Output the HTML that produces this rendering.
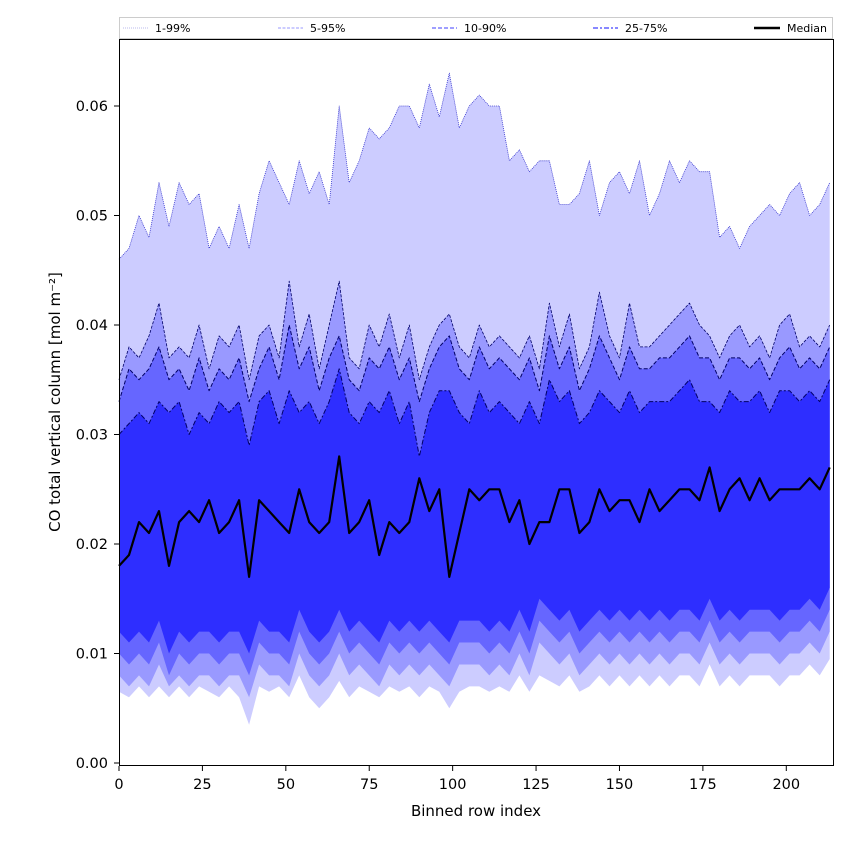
<!DOCTYPE html>
<html><head><meta charset="utf-8"><style>
body{margin:0;background:#fff;}
svg text{font-family:"DejaVu Sans","Liberation Sans",sans-serif;}
</style></head><body>
<svg id="chart" width="850" height="850" viewBox="0 0 850 850" xmlns="http://www.w3.org/2000/svg">
<g id="bands"></g>
<g id="lines"></g>
<rect x="119.5" y="39.5" width="714" height="726" fill="none" stroke="#000" stroke-width="1"/>
<g id="axes"></g>
<text x="476" y="816" font-size="15" text-anchor="middle">Binned row index</text>
<text transform="translate(60,402) rotate(-90)" font-size="15" text-anchor="middle">CO total vertical column [mol m⁻²]</text>
<g>
<rect x="119.5" y="17.5" width="713" height="21" fill="#fff" stroke="#ccc"/>
<line x1="123" y1="28" x2="148" y2="28" stroke="#bbbbee" stroke-width="1" stroke-dasharray="1,1"/>
<text x="155" y="32" font-size="11">1-99%</text>
<line x1="278" y1="28" x2="303" y2="28" stroke="#9999ff" stroke-width="1" stroke-dasharray="3,1.5"/>
<text x="310" y="32" font-size="11">5-95%</text>
<line x1="432" y1="28" x2="457" y2="28" stroke="#6666ff" stroke-width="1.3" stroke-dasharray="4,2"/>
<text x="464" y="32" font-size="11">10-90%</text>
<line x1="593" y1="28" x2="618" y2="28" stroke="#7777ff" stroke-width="1.8" stroke-dasharray="5,2,2,2"/>
<text x="625" y="32" font-size="11">25-75%</text>
<line x1="754" y1="28" x2="780" y2="28" stroke="#000" stroke-width="2.5"/>
<text x="787" y="32" font-size="11">Median</text>
</g>
</svg>
<script>
const rowIndex = [];
for (let i = 0; i <= 213; i += 3) rowIndex.push(i);
const SCALE = 1e-3;
const p99 = [46,47,50,48,53,49,53,51,52,47,49,47, 51,47,52,55,53,51,55,52,54,51,60,53, 55,58,57,58,60,60,58,62,59,63,58,60, 61,60,60,55,56,54,55,55,51,51,52,55, 50,53,54,52,55,50,52,55,53,55,54,54, 48,49,47,49,50,51,50,52,53,50,51,53];
const p95 = [35,38,37,39,42,37,38,37,40,36,39,38, 40,35,39,40,37,44,38,41,36,40,44,37, 36,40,38,41,37,40,35,38,40,41,38,37, 40,38,39,38,37,39,36,42,38,41,36,38, 43,39,37,42,38,38,39,40,41,42,40,39, 37,39,40,38,39,37,40,41,38,39,38,40];
const p90 = [33,36,35,36,38,35,36,34,37,34,36,35, 37,33,36,38,35,40,36,38,34,37,39,35, 34,37,36,38,35,37,33,36,38,39,36,35, 38,36,37,36,35,37,34,39,36,38,34,36, 39,37,35,38,36,36,37,37,38,39,37,37, 35,37,37,36,37,35,37,38,36,37,36,38];
const p75 = [30,31,32,31,33,32,33,30,32,31,33,32, 33,29,33,34,31,34,32,33,31,33,36,32, 31,33,32,34,31,33,28,32,34,34,32,31, 34,32,33,32,31,33,31,35,33,34,31,32, 34,33,32,34,32,33,33,33,34,35,33,33, 32,34,33,33,34,32,34,34,33,34,33,35];
const median = [18,19,22,21,23,18,22,23,22,24,21,22, 24,17,24,23,22,21,25,22,21,22,28,21, 22,24,19,22,21,22,26,23,25,17,21,25, 24,25,25,22,24,20,22,22,25,25,21,22, 25,23,24,24,22,25,23,24,25,25,24,27, 23,25,26,24,26,24,25,25,25,26,25,27];
const p25 = [12,11,12,11,13,10,12,11,12,12,11,12, 12,10,13,12,12,11,14,12,11,12,14,12, 13,12,11,13,12,13,12,13,12,11,13,13, 13,12,13,12,14,12,15,14,13,14,12,13, 14,13,14,13,14,13,14,13,14,14,13,15, 13,14,13,14,14,14,13,14,14,15,14,16];
const p10 = [10,9,10,9,11,8,10,9,10,10,9,10, 10,8,11,10,10,9,12,10,9,10,12,10, 11,10,9,11,10,11,10,11,10,9,11,11, 11,10,11,10,12,10,13,12,11,12,10,11, 12,11,12,11,12,11,12,11,12,12,11,13, 11,12,11,12,12,12,11,12,12,13,12,14];
const p5 = [8,7,8,7,9,7,8,7,8,8,7,8, 8,6,9,8,8,7,10,8,7,8,10,8, 9,8,7,9,8,9,8,9,8,7,9,9, 9,8,9,8,10,8,11,10,9,10,8,9, 10,9,10,9,10,9,10,9,10,10,9,11, 9,10,9,10,10,10,9,10,10,11,10,12];
const p1 = [6.5,6,7,6,7,6,7,6,7,6.5,6,7, 6,3.5,7,6.5,7,6,8,6,5,6,7.5,6, 7,6.5,6,7,6.5,7,6,7,6.5,5,6.5,7, 7,6.5,7,6.5,8,6.5,8,7.5,7,8,6.5,7, 8,7,8,7,8,7,8,7,8,8,7,9, 7,8,7,8,8,8,7,8,8,9,8,9.5];
const xTicks = [0,25,50,75,100,125,150,175,200];
const yTicks = [0,0.01,0.02,0.03,0.04,0.05,0.06];
const yTickLabels = ["0.00","0.01","0.02","0.03","0.04","0.05","0.06"];

const NS = "http://www.w3.org/2000/svg";
const X0 = 119, X1 = 833, XMAX = 214;
function xs(i){ return X0 + i * (X1 - X0) / XMAX; }
function ys(v){ return 763 - v * 10950; }
function pts(arr){ return arr.map((v,k)=>xs(rowIndex[k]).toFixed(1)+","+ys(v*SCALE).toFixed(1)); }
function band(lo, hi, color, name){
  const p = document.createElementNS(NS,"polygon");
  p.setAttribute("points", pts(hi).concat(pts(lo).reverse()).join(" "));
  p.setAttribute("fill", color);
  
  
  document.getElementById("bands").appendChild(p);
}
function line(arr, color, w, dash, name){
  const p = document.createElementNS(NS,"polyline");
  p.setAttribute("points", pts(arr).join(" "));
  p.setAttribute("fill","none");
  p.setAttribute("stroke",color);
  p.setAttribute("stroke-width",w);
  p.setAttribute("stroke-linejoin","round");
  if (dash) p.setAttribute("stroke-dasharray",dash);
  
  
  document.getElementById("lines").appendChild(p);
}
band(p1, p99, "#ccccff", "band-1-99");
band(p5, p95, "#9999ff", "band-5-95");
band(p10, p90, "#6666ff", "band-10-90");
band(p25, p75, "#2e2eff", "band-25-75");
line(p99, "#3333cc", 0.8, "1,1", "line-p99");
line(p95, "#000066", 0.8, "3,1.5", "line-p95");
line(p90, "#000066", 1, "4,2", "line-p90");
line(p75, "#000066", 1, "5,2,2,2", "line-p75");
line(median, "#000", 2.2, null, "median-line");

const ax = document.getElementById("axes");
xTicks.forEach(t=>{
  const l = document.createElementNS(NS,"line");
  l.setAttribute("x1",xs(t)); l.setAttribute("x2",xs(t));
  l.setAttribute("y1",766); l.setAttribute("y2",771);
  l.setAttribute("stroke","#000");
  
  
  ax.appendChild(l);
  const tx = document.createElementNS(NS,"text");
  tx.setAttribute("x",xs(t)); tx.setAttribute("y",789);
  tx.setAttribute("font-size","14.5"); tx.setAttribute("text-anchor","middle");
  tx.textContent = t;
  
  
  ax.appendChild(tx);
});
yTicks.forEach((t,k)=>{
  const l = document.createElementNS(NS,"line");
  l.setAttribute("x1",114); l.setAttribute("x2",119);
  l.setAttribute("y1",ys(t)); l.setAttribute("y2",ys(t));
  l.setAttribute("stroke","#000");
  
  
  ax.appendChild(l);
  const tx = document.createElementNS(NS,"text");
  tx.setAttribute("x",108); tx.setAttribute("y",ys(t)+5);
  tx.setAttribute("font-size","14.5"); tx.setAttribute("text-anchor","end");
  tx.textContent = yTickLabels[k];
  
  
  ax.appendChild(tx);
});
</script>
</body></html>
